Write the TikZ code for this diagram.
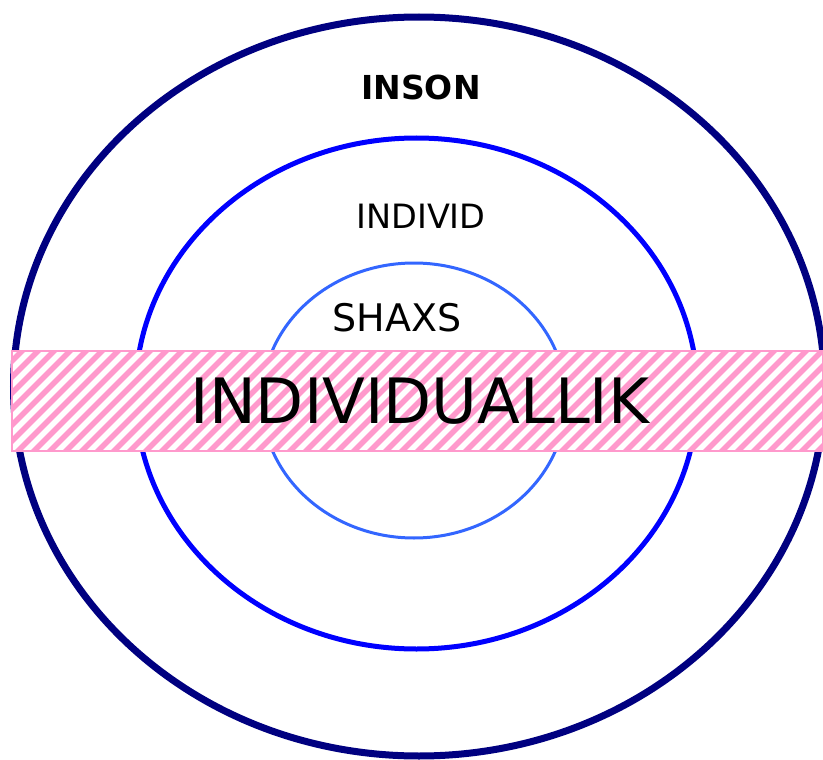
\documentclass[tikz,border=0pt]{standalone}
\usepackage{fontspec}
\setmainfont{DejaVu Sans}
\definecolor{insonblue}{HTML}{000080}
\definecolor{individblue}{HTML}{0000FF}
\definecolor{shaxsblue}{HTML}{3366FF}
\definecolor{bandpink}{HTML}{FF99CC}
\tikzset{
  ring/.style={draw, fill=none},
  lbl/.style={inner sep=0pt, anchor=center},
  stripe/.style={bandpink, line width=5.5pt}
}
\begin{document}
\begin{tikzpicture}[x=1pt, y=-1pt]
	\useasboundingbox (0,0) rectangle (823,760);
	% rings
	\draw[ring, insonblue, line width=7pt] (419,386.5) ellipse (405.5 and 369.5);
	\draw[ring, individblue, line width=5pt] (416.5,393.5) ellipse (281 and 255.5);
	\draw[ring, shaxsblue, line width=3pt] (414,400.5) ellipse (152 and 137.5);
	% band
	\fill[white] (12,351) rectangle (823,451);
	\begin{scope}
		\clip (12,351) rectangle (823,451);
		\foreach \i in {-8,...,54}
			\draw[stripe] (12+\i*16,457) -- ++(112,-112);
	\end{scope}
	\draw[bandpink, line width=1.5pt] (12,351) rectangle (823,451);
	% labels
	\node[lbl, font=\fontsize{33}{38}\selectfont\bfseries] (inson) at (421,87) {INSON};
	\node[lbl, font=\fontsize{33.5}{38}\selectfont] (individ) at (421,216) {INDIVID};
	\node[lbl, font=\fontsize{38}{43}\selectfont] (shaxs) at (397,318) {SHAXS};
	\node[lbl, font=\fontsize{62.5}{70}\selectfont] (individuallik) at (420,401) {INDIVIDUALLIK};
\end{tikzpicture}
\end{document}
